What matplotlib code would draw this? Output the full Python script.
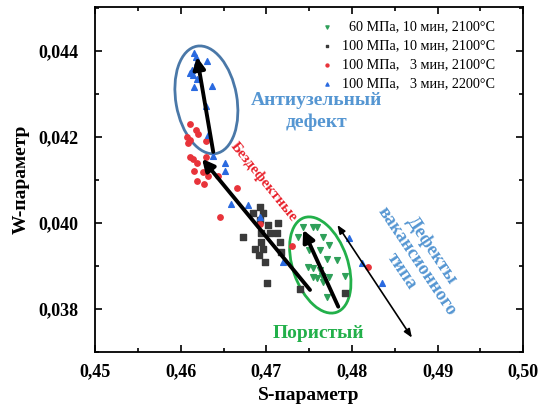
import numpy as np
import matplotlib
matplotlib.use("Agg")
import matplotlib.pyplot as plt
import matplotlib.transforms as mtransforms
from matplotlib.patches import Ellipse
from matplotlib.ticker import MultipleLocator, FuncFormatter

plt.rcParams['font.family'] = ['Liberation Serif', 'DejaVu Serif']

# 60 MPa, 10 min, 2100 C (green, down triangles)
s_green = [0.4743, 0.4754, 0.4759, 0.4737, 0.4746, 0.4766, 0.4773, 0.4750, 0.4763, 0.4771,
           0.4783, 0.4749, 0.4755, 0.4763, 0.4773, 0.4792, 0.4765, 0.4759, 0.4771, 0.4766, 0.4755]
w_green = [0.03991, 0.03991, 0.03991, 0.03967, 0.03963, 0.03967, 0.03949, 0.03937, 0.03937, 0.03916,
           0.03914, 0.03898, 0.03895, 0.03891, 0.03874, 0.03877, 0.03877, 0.03872, 0.03828, 0.03863, 0.03874]

# 100 MPa, 10 min, 2100 C (black squares)
s_black = [0.4693, 0.4685, 0.4696, 0.4693, 0.4702, 0.4714, 0.4704, 0.4713, 0.4694, 0.4673,
           0.4694, 0.4716, 0.4687, 0.4696, 0.4717, 0.4692, 0.4699, 0.4701, 0.4739, 0.4792]
w_black = [0.04037, 0.04023, 0.04023, 0.04007, 0.03995, 0.04000, 0.03977, 0.03977, 0.03977, 0.03967,
           0.03956, 0.03956, 0.03940, 0.03940, 0.03933, 0.03926, 0.03909, 0.03860, 0.03847, 0.03837]

# 100 MPa, 3 min, 2100 C (red circles)
s_red = [0.4611, 0.4618, 0.4620, 0.4607, 0.4611, 0.4609, 0.4629, 0.4611, 0.4629, 0.4614, 0.4619,
         0.4631, 0.4616, 0.4626, 0.4619, 0.4632, 0.4627, 0.4644, 0.4666, 0.4646, 0.4693, 0.4730, 0.4819]
w_red = [0.04230, 0.04216, 0.04207, 0.04200, 0.04193, 0.04186, 0.04191, 0.04153, 0.04153, 0.04149, 0.04140,
         0.04135, 0.04121, 0.04119, 0.04098, 0.04109, 0.04091, 0.04109, 0.04081, 0.04014, 0.03998, 0.03947, 0.03898]

# 100 MPa, 3 min, 2200 C (blue triangles)
s_blue = [0.4616, 0.4618, 0.4619, 0.4631, 0.4611, 0.4613, 0.4614, 0.4619, 0.4616, 0.4637, 0.4629,
          0.4632, 0.4638, 0.4652, 0.4652, 0.4659, 0.4679, 0.4693, 0.4720, 0.4796, 0.4812, 0.4835]
w_blue = [0.04395, 0.04386, 0.04374, 0.04377, 0.04349, 0.04356, 0.04344, 0.04335, 0.04316, 0.04319, 0.04272,
          0.04205, 0.04156, 0.04140, 0.04121, 0.04044, 0.04042, 0.04014, 0.03909, 0.03965, 0.03907, 0.03860]

labels = ["  60 МПа, 10 мин, 2100°C", "100 МПа, 10 мин, 2100°C",
          "100 МПа,   3 мин, 2100°C", "100 МПа,   3 мин, 2200°C"]

# trend arrows: (tail, head) in S/W
arrows = [((0.4638, 0.04165), (0.4619, 0.04386)),
          ((0.4751, 0.03844), (0.4625, 0.04149)),
          ((0.4784, 0.03805), (0.4743, 0.03984))]
thin_arrow = ((0.4870, 0.03733), (0.4783, 0.03995))

fig = plt.figure(figsize=(5.4, 4.12), dpi=100)
ax = fig.add_axes([0.176, 0.146, 0.793, 0.837])

ax.scatter(s_green, w_green, marker='v', s=17, color='#2fa05a', label=labels[0], zorder=3)
ax.scatter(s_black, w_black, marker='s', s=15, color='#3a3a3a', label=labels[1], zorder=3)
ax.scatter(s_red, w_red, marker='o', s=15, color='#e8333a', label=labels[2], zorder=3)
ax.scatter(s_blue, w_blue, marker='^', s=17, color='#2a6ae0', label=labels[3], zorder=3)

for tail, head in arrows:
    ax.annotate("", xy=head, xytext=tail,
                arrowprops=dict(arrowstyle='-|>,head_width=0.35,head_length=0.7',
                                lw=2.8, color='black', shrinkA=0, shrinkB=0), zorder=4)
ax.annotate("", xy=thin_arrow[1], xytext=thin_arrow[0],
            arrowprops=dict(arrowstyle='<|-|>,head_width=0.2,head_length=0.5',
                            lw=1.2, color='black', shrinkA=0, shrinkB=0), zorder=4)

# ellipses sized in inches, centred in data coords
def add_ellipse(center, w, h, angle, color):
    trans = fig.dpi_scale_trans + mtransforms.ScaledTranslation(center[0], center[1], ax.transData)
    ax.add_patch(Ellipse((0, 0), w, h, angle=angle, fill=False, lw=2,
                         edgecolor=color, transform=trans, zorder=2))

add_ellipse((0.4630, 0.04286), 0.61, 1.09, 10, '#4a78a8')
add_ellipse((0.4763, 0.03902), 0.55, 1.00, 19, '#22b04a')

blue_txt = '#5596d2'
ax.text(0.4759, 0.04259, "Антиузельный\nдефект", color=blue_txt,
        fontsize=14, fontweight='bold', ha='center', va='center', linespacing=1.4)
ax.text(0.4697, 0.04096, "Бездефектные", color='#e8202a', fontsize=11, fontweight='bold',
        rotation=-51, ha='center', va='center', rotation_mode='anchor')
ax.text(0.4876, 0.03912, "Дефекты\nвакансионного\nтипа", color=blue_txt, fontsize=13.5,
        fontweight='bold', rotation=-56, ha='center', va='center', multialignment='center',
        rotation_mode='anchor', linespacing=1.1)
ax.text(0.4761, 0.03743, "Пористый", color='#22b04a', fontsize=14, fontweight='bold',
        ha='center', va='center')

ax.set_xlim(0.45, 0.50)
ax.set_ylim(0.037, 0.04502)
ax.xaxis.set_major_locator(MultipleLocator(0.01))
ax.xaxis.set_minor_locator(MultipleLocator(0.005))
ax.yaxis.set_major_locator(MultipleLocator(0.002))
ax.yaxis.set_minor_locator(MultipleLocator(0.001))
ax.xaxis.set_major_formatter(FuncFormatter(lambda v, p: f"{v:.2f}".replace('.', ',')))
ax.yaxis.set_major_formatter(FuncFormatter(lambda v, p: f"{v:.3f}".replace('.', ',')))
ax.tick_params(which='both', direction='in', top=True, right=True, width=1.2)
ax.tick_params(which='major', length=5, labelsize=13)
ax.tick_params(axis='x', which='major', pad=8)
ax.tick_params(axis='y', which='major', pad=12)
ax.tick_params(which='minor', length=3)
for lab in ax.get_xticklabels() + ax.get_yticklabels():
    lab.set_fontweight('bold')
for sp in ax.spines.values():
    sp.set_linewidth(1.3)

ax.set_xlabel("S-параметр", fontsize=14, fontweight='bold', labelpad=5)
ax.set_ylabel("W-параметр", fontsize=14, fontweight='bold', labelpad=6)

ax.legend(loc='upper right', bbox_to_anchor=(0.955, 0.985), frameon=False, fontsize=10.2,
          handletextpad=0.6, markerscale=0.55, borderaxespad=0.3, labelspacing=0.42,
          handlelength=0.9, borderpad=0.3)

fig.savefig("out.png", dpi=100)
